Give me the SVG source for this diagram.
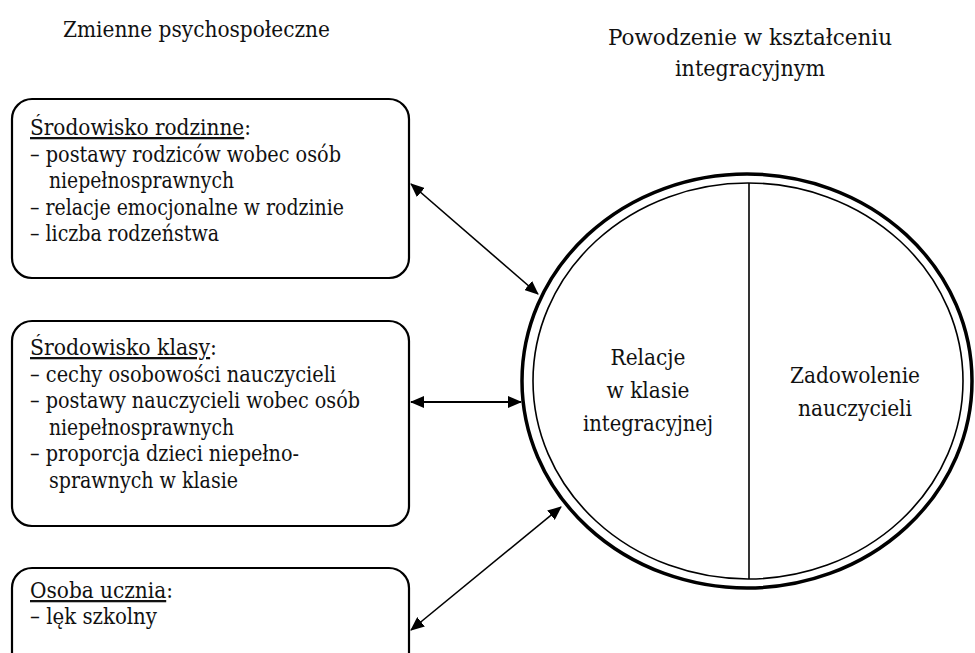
<svg xmlns="http://www.w3.org/2000/svg" width="975" height="653" viewBox="0 0 975 653" font-family="DejaVu Serif, serif">
<style>
text{font-family:"DejaVu Serif",serif;font-stretch:condensed;fill:#111}
.h{font-size:23.2px}
.t{font-size:22.8px}
.b{font-size:21.7px}
.c{font-size:22.8px;text-anchor:middle}
.u{text-decoration:underline}
.box{fill:#fff;stroke:#000;stroke-width:2.2}
.con{stroke:#000;fill:none}
</style>
<defs>
<marker id="ah" viewBox="0 0 14 12" refX="13" refY="6" markerWidth="14" markerHeight="12" markerUnits="userSpaceOnUse" orient="auto-start-reverse">
<path d="M0,0 L14,6 L0,12 z" fill="#000"/>
</marker>
</defs>
<rect width="975" height="653" fill="#fff"/>
<g id="header-left"><text class="h" x="63" y="37" textLength="267" lengthAdjust="spacingAndGlyphs">Zmienne psychospołeczne</text></g>
<g id="header-right">
<text class="h" x="750" y="45" text-anchor="middle" textLength="284" lengthAdjust="spacingAndGlyphs">Powodzenie w kształceniu</text>
<text class="h" x="750" y="76" text-anchor="middle" textLength="150" lengthAdjust="spacingAndGlyphs">integracyjnym</text>
</g>
<g id="box-rodzinne">
<rect class="box" x="12" y="99" width="397" height="179" rx="20"/>
<text class="t" x="30" y="135" textLength="221" lengthAdjust="spacingAndGlyphs"><tspan class="u">Środowisko rodzinne</tspan>:</text>
<text class="b" x="30" y="162" textLength="311" lengthAdjust="spacingAndGlyphs">– postawy rodziców wobec osób</text>
<text class="b" x="49" y="188" textLength="185" lengthAdjust="spacingAndGlyphs">niepełnosprawnych</text>
<text class="b" x="30" y="215" textLength="314" lengthAdjust="spacingAndGlyphs">– relacje emocjonalne w rodzinie</text>
<text class="b" x="30" y="241" textLength="189" lengthAdjust="spacingAndGlyphs">– liczba rodzeństwa</text>
</g>
<g id="box-klasy">
<rect class="box" x="12" y="321" width="397" height="205" rx="20"/>
<text class="t" x="30" y="355" textLength="187" lengthAdjust="spacingAndGlyphs"><tspan class="u">Środowisko klasy</tspan>:</text>
<text class="b" x="30" y="382" textLength="306" lengthAdjust="spacingAndGlyphs">– cechy osobowości nauczycieli</text>
<text class="b" x="30" y="408" textLength="330" lengthAdjust="spacingAndGlyphs">– postawy nauczycieli wobec osób</text>
<text class="b" x="49" y="435" textLength="185" lengthAdjust="spacingAndGlyphs">niepełnosprawnych</text>
<text class="b" x="30" y="461" textLength="269" lengthAdjust="spacingAndGlyphs">– proporcja dzieci niepełno-</text>
<text class="b" x="49" y="488" textLength="189" lengthAdjust="spacingAndGlyphs">sprawnych w klasie</text>
</g>
<g id="box-ucznia">
<rect class="box" x="12" y="568" width="397" height="110" rx="20"/>
<text class="t" x="30" y="598" textLength="143" lengthAdjust="spacingAndGlyphs"><tspan class="u">Osoba ucznia</tspan>:</text>
<text class="b" x="30" y="624" textLength="127" lengthAdjust="spacingAndGlyphs">– lęk szkolny</text>
</g>
<g id="circle">
<ellipse cx="747" cy="381" rx="225" ry="207" fill="#fff" stroke="#000" stroke-width="3.5"/>
<ellipse cx="748" cy="381" rx="215" ry="198" fill="none" stroke="#000" stroke-width="1.6"/>
<line x1="749" y1="183" x2="749" y2="579" stroke="#000" stroke-width="1.6"/>
<text class="c" x="648" y="365" textLength="75" lengthAdjust="spacingAndGlyphs">Relacje</text>
<text class="c" x="648" y="398" textLength="83" lengthAdjust="spacingAndGlyphs">w klasie</text>
<text class="c" x="648" y="431" textLength="130" lengthAdjust="spacingAndGlyphs">integracyjnej</text>
<text class="c" x="855" y="383" textLength="130" lengthAdjust="spacingAndGlyphs">Zadowolenie</text>
<text class="c" x="855" y="416" textLength="114" lengthAdjust="spacingAndGlyphs">nauczycieli</text>
</g>
<g id="connectors">
<line class="con" x1="411" y1="184" x2="538" y2="294" stroke-width="1.6" marker-start="url(#ah)" marker-end="url(#ah)"/>
<line class="con" x1="411" y1="402" x2="521" y2="402" stroke-width="2.2" marker-start="url(#ah)" marker-end="url(#ah)"/>
<line class="con" x1="411" y1="630" x2="561" y2="507" stroke-width="1.6" marker-start="url(#ah)" marker-end="url(#ah)"/>
</g>
</svg>
